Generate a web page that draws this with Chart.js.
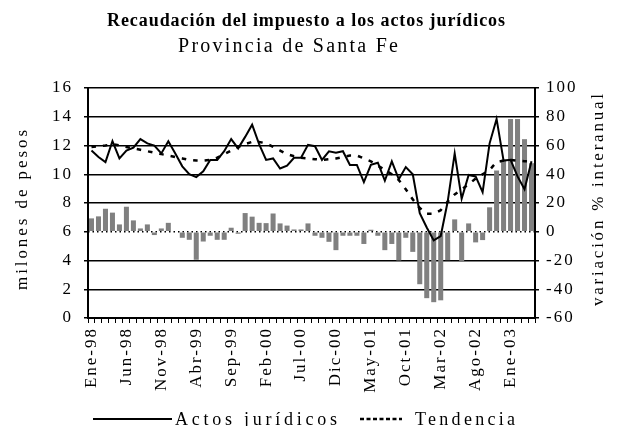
<!DOCTYPE html>
<html lang="es">
<head>
<meta charset="UTF-8">
<title>Recaudación del impuesto a los actos jurídicos</title>
<script src="https://cdn.jsdelivr.net/npm/chart.js"></script>
<style>
  html, body { margin: 0; padding: 0; background: #fff; }
  canvas { display: block; }
</style>
</head>
<body>
<canvas id="chart" width="617" height="426"></canvas>
<script>
// meses Ene-98 .. Abr-03
const meses = [
  'Ene-98','Feb-98','Mar-98','Abr-98','May-98','Jun-98','Jul-98','Ago-98','Sep-98','Oct-98','Nov-98','Dic-98',
  'Ene-99','Feb-99','Mar-99','Abr-99','May-99','Jun-99','Jul-99','Ago-99','Sep-99','Oct-99','Nov-99','Dic-99',
  'Ene-00','Feb-00','Mar-00','Abr-00','May-00','Jun-00','Jul-00','Ago-00','Sep-00','Oct-00','Nov-00','Dic-00',
  'Ene-01','Feb-01','Mar-01','Abr-01','May-01','Jun-01','Jul-01','Ago-01','Sep-01','Oct-01','Nov-01','Dic-01',
  'Ene-02','Feb-02','Mar-02','Abr-02','May-02','Jun-02','Jul-02','Ago-02','Sep-02','Oct-02','Nov-02','Dic-02',
  'Ene-03','Feb-03','Mar-03','Abr-03'
];

// millones de pesos (eje izquierdo)
const actos = [
  11.65, 11.2, 10.85, 12.3, 11.1, 11.65, 11.85, 12.45, 12.15, 12.0, 11.45, 12.3,
  11.45, 10.55, 10.0, 9.8, 10.2, 11.0, 11.0, 11.6, 12.45, 11.8, 12.6, 13.45,
  12.1, 11.0, 11.1, 10.4, 10.6, 11.15, 11.15, 12.05, 11.95, 11.0, 11.6, 11.5,
  11.6, 10.65, 10.65, 9.45, 10.65, 10.8, 9.55, 10.9, 9.65, 10.5, 10.0, 7.3,
  6.3, 5.4, 5.7, 8.1, 11.45, 8.3, 9.95, 9.85, 8.75, 12.15, 13.85, 10.95,
  11.0, 9.85, 8.95, 10.9
];

const tendencia = [
  11.9, 11.95, 12.0, 12.1, 12.0, 11.9, 11.8, 11.7, 11.6, 11.5, 11.4, 11.3,
  11.2, 11.1, 11.0, 10.95, 10.95, 11.0, 11.15, 11.4, 11.65, 11.9, 12.1, 12.25,
  12.25, 12.15, 11.9, 11.65, 11.4, 11.25, 11.15, 11.1, 11.05, 11.0, 11.05, 11.1,
  11.2, 11.3, 11.3, 11.1, 10.9, 10.6, 10.3, 10.0, 9.6, 8.95, 8.25, 7.65,
  7.25, 7.25, 7.5, 8.1, 8.6, 8.95, 9.3, 9.7, 10.0, 10.3, 10.85, 10.95,
  11.0, 10.95, 10.9, 10.9
];

// variación % interanual (eje derecho)
const variacion = [
  9.3, 10.7, 16.0, 13.3, 5.1, 17.4, 7.9, 2.3, 5.1, -2.3, 2.3, 6.2,
  -0.5, -4.2, -5.6, -19.5, -6.8, -2.8, -5.6, -5.6, 2.8, -1.4, 13.0, 10.5,
  6.2, 6.0, 12.7, 5.8, 4.3, 1.6, 1.6, 5.8, -2.8, -4.2, -7.0, -12.8,
  -2.8, -2.8, -2.8, -8.5, 1.4, -2.8, -12.8, -8.5, -20.0, -4.2, -14.0, -36.5,
  -46.2, -49.0, -47.7, -19.8, 8.6, -20.9, 5.8, -7.4, -5.8, 17.0, 42.6, 50.0,
  78.4, 78.4, 64.4, 47.7
];

const serif = "'Liberation Serif', 'Times New Roman', serif";

// texto con ancho fijo (el original tiene letras espaciadas)
function fitText(c, txt, x0, x1, y) {
  c.letterSpacing = '0px';
  const w = c.measureText(txt).width;
  const sp = Math.max(0, (x1 - x0 - w) / (txt.length - 1));
  c.letterSpacing = sp + 'px';
  c.textAlign = 'left';
  c.fillText(txt, x0, y);
}

const textos = {
  id: 'textos',
  beforeDraw(chart) { chart.ctx.letterSpacing = '2px'; },
  afterDraw(chart) {
    const c = chart.ctx;
    c.save();
    c.fillStyle = '#000';
    c.strokeStyle = '#000';
    c.textBaseline = 'alphabetic';

    c.font = 'bold 18px ' + serif;
    fitText(c, 'Recaudación del impuesto a los actos jurídicos', 107, 505, 26);
    c.font = '20px ' + serif;
    fitText(c, 'Provincia de Santa Fe', 178, 398, 52);

    c.font = '17px ' + serif;
    c.save();
    c.translate(27, 0); c.rotate(-Math.PI / 2);
    fitText(c, 'milones de pesos', -290, -130, 0);
    c.restore();
    c.save();
    c.translate(603, 0); c.rotate(-Math.PI / 2);
    fitText(c, 'variación % interanual', -306, -94, 0);
    c.restore();

    // leyenda
    c.lineWidth = 2;
    c.setLineDash([]);
    c.beginPath(); c.moveTo(93, 419); c.lineTo(172, 419); c.stroke();
    c.font = '18px ' + serif;
    fitText(c, 'Actos jurídicos', 175, 337, 425);
    c.lineWidth = 2.5;
    c.setLineDash([4, 2.5]);
    c.beginPath(); c.moveTo(360, 419); c.lineTo(402, 419); c.stroke();
    c.setLineDash([]);
    fitText(c, 'Tendencia', 415, 515, 425);
    c.restore();
  }
};

new Chart(document.getElementById('chart'), {
  data: {
    labels: meses,
    datasets: [
      { type: 'line', label: 'Actos jurídicos', data: actos, yAxisID: 'y',
        borderColor: '#000', borderWidth: 2, pointRadius: 0, tension: 0, order: 1 },
      { type: 'line', label: 'Tendencia', data: tendencia, yAxisID: 'y',
        borderColor: '#000', borderWidth: 2.5, borderDash: [4.5, 7], pointRadius: 0, tension: 0, order: 2 },
      { type: 'bar', label: 'variación % interanual', data: variacion, yAxisID: 'y1',
        backgroundColor: '#808080', barPercentage: 0.72, categoryPercentage: 1, order: 3 }
    ]
  },
  options: {
    responsive: false,
    animation: false,
    layout: { padding: { top: 88, left: 0, right: 0, bottom: 0 } },
    plugins: { legend: { display: false }, tooltip: { enabled: false } },
    scales: {
      x: {
        type: 'category',
        offset: true,
        afterFit(s) { s.height = 108; },
        grid: { drawOnChartArea: false, drawTicks: true, tickLength: 5, tickColor: '#000', tickWidth: 1, offset: true },
        border: { color: '#000', width: 2 },
        ticks: {
          autoSkip: false, maxRotation: 90, minRotation: 90, padding: 4,
          color: '#000', font: { family: serif, size: 17 },
          callback(v, i) { return i % 5 === 0 ? meses[i] : ''; }
        }
      },
      y: {
        position: 'left', min: 0, max: 16,
        afterFit(s) { s.width = 88; },
        grid: {
          color: (ctx) => ctx.tick && ctx.tick.value === 6 ? 'rgba(0,0,0,0)' : '#000',
          lineWidth: 1.5, tickLength: 4, tickColor: '#000', tickWidth: 1.5
        },
        border: { color: '#000', width: 2 },
        ticks: { stepSize: 2, padding: 11, color: '#000', font: { family: serif, size: 17 } }
      },
      y1: {
        position: 'right', min: -60, max: 100,
        afterFit(s) { s.width = 82; },
        grid: {
          color: (ctx) => ctx.tick && ctx.tick.value === 0 ? '#000' : 'rgba(0,0,0,0)',
          lineWidth: 1.5, tickLength: 4, tickColor: '#000', tickWidth: 1.5
        },
        border: { color: '#000', width: 2, dash: [1.5, 3] },
        ticks: { stepSize: 20, padding: 7, color: '#000', font: { family: serif, size: 17 } }
      }
    }
  },
  plugins: [textos]
});
</script>
</body>
</html>
